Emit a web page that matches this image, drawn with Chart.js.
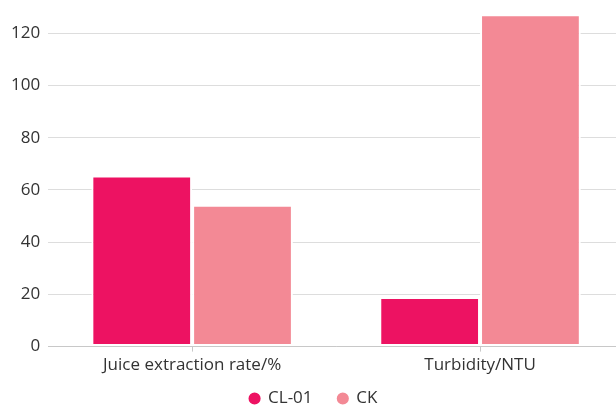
<!DOCTYPE html>
<html>
<head>
<meta charset="utf-8">
<script src="https://cdn.jsdelivr.net/npm/chart.js@4"></script>
<style>
  html, body { margin: 0; padding: 0; background: #fff; overflow: hidden; }
  #clip { width: 616px; height: 405px; overflow: hidden; }
  #wrap { width: 629px; height: 428px; margin-top: -11px; }
</style>
</head>
<body>
<div id="clip"><div id="wrap"><canvas id="barChart"></canvas></div></div>
<script>
// Chart data
const categories = ['Juice extraction rate/%', 'Turbidity/NTU'];
const seriesNames = ['CL-01', 'CK'];
const cl01Values = [65.5, 19];
const ckValues = [54.3, 127.3];
const yTicks = [0, 20, 40, 60, 80, 100, 120];

Chart.defaults.font.family = '"Open Sans", "Noto Sans", sans-serif';
Chart.defaults.color = '#333333';

new Chart(document.getElementById('barChart'), {
    type: 'bar',
    data: {
        labels: categories,
        datasets: [
            {
                label: seriesNames[0],
                data: cl01Values,
                backgroundColor: '#ED1262',
                borderColor: '#ffffff',
                borderWidth: 2,
                borderSkipped: false
            },
            {
                label: seriesNames[1],
                data: ckValues,
                backgroundColor: '#F38995',
                borderColor: '#ffffff',
                borderWidth: 2,
                borderSkipped: false
            }
        ]
    },
    options: {
        responsive: true,
        maintainAspectRatio: false,
        animation: false,
        categoryPercentage: 0.7,
        barPercentage: 1.0,
        layout: {
            padding: { top: 0, bottom: 0, left: 3, right: 5 }
        },
        plugins: {
            legend: {
                display: true,
                position: 'bottom',
                labels: {
                    usePointStyle: true,
                    pointStyle: 'circle',
                    boxWidth: 10,
                    boxHeight: 10,
                    padding: 12,
                    color: '#333333',
                    font: { size: 17 },
                    // widen the gap between the two items without growing the legend height
                    generateLabels: chart => {
                        const items = Chart.defaults.plugins.legend.labels.generateLabels(chart);
                        items.forEach((it, i) => {
                            if (i < items.length - 1) it.text = it.text + '   ';
                        });
                        return items;
                    }
                }
            },
            tooltip: { enabled: false }
        },
        scales: {
            y: {
                min: 0,
                max: 130,
                afterBuildTicks: scale => {
                    scale.ticks = yTicks.map(v => ({ value: v }));
                },
                border: { display: false },
                grid: { color: '#dddddd', lineWidth: 1, drawTicks: false },
                ticks: {
                    color: '#333333',
                    font: { size: 17 },
                    padding: 8
                }
            },
            x: {
                border: { display: true, color: '#c8c8c8' },
                grid: {
                    offset: false,
                    drawOnChartArea: false,
                    drawTicks: true,
                    tickLength: 5,
                    color: '#c8c8c8'
                },
                ticks: {
                    color: '#333333',
                    font: { size: 17 },
                    padding: 3
                }
            }
        }
    }
});
</script>
</body>
</html>
